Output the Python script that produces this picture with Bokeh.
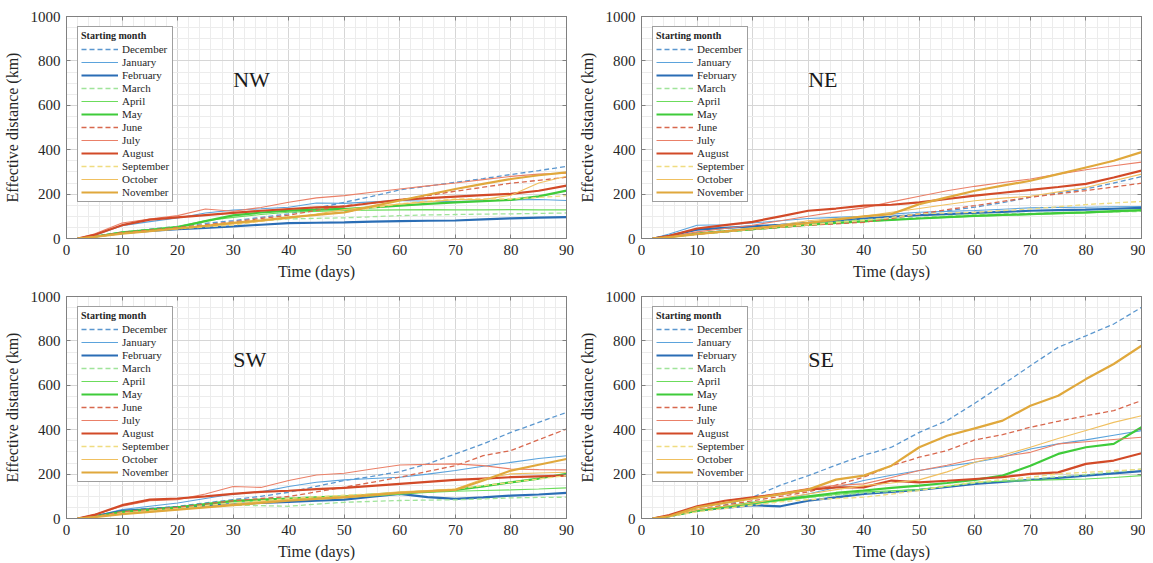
from bokeh.plotting import figure
from bokeh.layouts import column, row
from bokeh.models import FixedTicker, Legend, LegendItem, Label, LinearAxis
from bokeh.embed import file_html
from bokeh.resources import INLINE

days = [2, 5, 10, 15, 20, 25, 30, 35, 40, 45, 50, 55, 60, 65, 70, 75, 80, 85, 90]
months = ["December", "January", "February", "March", "April", "May",
          "June", "July", "August", "September", "October", "November"]
x_ticks = [0, 10, 20, 30, 40, 50, 60, 70, 80, 90]
y_ticks = [0, 200, 400, 600, 800, 1000]

# ---- NW ----
nw_dec = [0, 8, 28, 42, 55, 68, 80, 95, 111, 137, 163, 190, 219, 236, 253, 270, 288, 306, 325]
nw_jan = [0, 14, 58, 76, 92, 115, 128, 134, 141, 160, 158, 165, 171, 168, 166, 170, 174, 176, 171]
nw_feb = [0, 8, 25, 34, 42, 48, 55, 62, 69, 71, 73, 76, 78, 80, 81, 86, 91, 94, 96]
nw_mar = [0, 8, 25, 37, 48, 60, 70, 80, 88, 91, 93, 98, 103, 106, 108, 110, 111, 113, 115]
nw_apr = [0, 9, 30, 42, 55, 80, 95, 108, 118, 122, 126, 128, 129, 130, 129, 129, 130, 129, 129]
nw_may = [0, 8, 27, 38, 50, 78, 104, 117, 126, 130, 133, 140, 148, 156, 163, 168, 174, 190, 216]
nw_jun = [0, 8, 27, 38, 50, 62, 75, 90, 105, 127, 148, 160, 174, 193, 213, 231, 249, 262, 276]
nw_jul = [0, 20, 70, 88, 103, 133, 123, 140, 163, 183, 193, 208, 223, 237, 250, 265, 280, 290, 294]
nw_aug = [0, 16, 60, 85, 95, 105, 115, 125, 133, 140, 144, 160, 174, 182, 189, 195, 201, 215, 238]
nw_sep = [0, 7, 22, 33, 44, 52, 60, 78, 95, 108, 118, 138, 156, 168, 178, 178, 178, 185, 193]
nw_oct = [0, 7, 22, 33, 45, 55, 65, 78, 90, 110, 130, 143, 155, 165, 175, 176, 195, 250, 280]
nw_nov = [0, 7, 22, 33, 45, 57, 70, 82, 95, 106, 118, 145, 171, 197, 223, 246, 268, 285, 298]

# ---- NE ----
ne_dec = [0, 8, 25, 35, 45, 55, 65, 78, 88, 100, 111, 125, 141, 162, 186, 205, 223, 250, 279]
ne_jan = [0, 20, 60, 62, 70, 80, 90, 95, 100, 110, 118, 122, 126, 132, 138, 140, 141, 143, 144]
ne_feb = [0, 12, 40, 48, 55, 62, 70, 80, 90, 98, 105, 110, 115, 120, 125, 128, 130, 134, 138]
ne_mar = [0, 6, 20, 30, 40, 52, 65, 75, 85, 90, 95, 102, 108, 111, 113, 116, 118, 120, 122]
ne_apr = [0, 6, 20, 30, 40, 50, 60, 68, 75, 83, 90, 95, 100, 104, 108, 112, 115, 120, 125]
ne_may = [0, 7, 22, 32, 42, 52, 62, 70, 78, 84, 90, 96, 102, 106, 110, 114, 118, 123, 128]
ne_jun = [0, 6, 20, 30, 40, 50, 60, 66, 73, 90, 111, 130, 148, 167, 186, 201, 216, 232, 249]
ne_jul = [0, 8, 30, 45, 60, 80, 100, 120, 138, 165, 190, 215, 235, 252, 268, 290, 310, 328, 344]
ne_aug = [0, 12, 45, 60, 75, 100, 125, 135, 148, 152, 163, 178, 193, 206, 219, 232, 246, 275, 306]
ne_sep = [0, 6, 20, 30, 42, 52, 62, 72, 81, 95, 111, 115, 118, 126, 133, 143, 153, 160, 167]
ne_oct = [0, 6, 20, 32, 45, 62, 80, 90, 100, 118, 135, 153, 170, 182, 190, 210, 230, 260, 290]
ne_nov = [0, 6, 20, 32, 45, 57, 70, 85, 100, 110, 155, 185, 215, 238, 260, 290, 320, 350, 389]

# ---- SW ----
sw_dec = [0, 8, 35, 45, 55, 70, 85, 100, 118, 145, 171, 190, 211, 246, 291, 336, 388, 433, 478]
sw_jan = [0, 10, 40, 55, 70, 90, 110, 120, 144, 163, 174, 180, 186, 200, 216, 235, 253, 270, 283]
sw_feb = [0, 10, 35, 42, 50, 58, 65, 70, 75, 80, 85, 98, 111, 96, 88, 95, 103, 108, 115]
sw_mar = [0, 8, 30, 38, 45, 52, 60, 58, 55, 65, 73, 77, 81, 83, 84, 88, 93, 95, 96]
sw_apr = [0, 8, 30, 40, 50, 62, 75, 80, 85, 90, 95, 102, 110, 117, 123, 126, 129, 133, 138]
sw_may = [0, 8, 30, 40, 50, 65, 80, 85, 90, 95, 100, 108, 115, 122, 129, 145, 163, 180, 201]
sw_jun = [0, 8, 30, 40, 50, 65, 80, 90, 99, 120, 141, 163, 186, 212, 238, 283, 306, 355, 403]
sw_jul = [0, 18, 55, 80, 85, 110, 144, 140, 171, 196, 204, 223, 241, 244, 246, 238, 223, 220, 219]
sw_aug = [0, 16, 60, 85, 90, 100, 111, 120, 125, 132, 138, 147, 156, 165, 174, 180, 186, 190, 193]
sw_sep = [0, 7, 25, 35, 45, 58, 70, 80, 90, 98, 105, 110, 115, 124, 133, 148, 163, 178, 193]
sw_oct = [0, 6, 20, 30, 40, 52, 65, 75, 85, 92, 100, 110, 120, 126, 133, 178, 201, 205, 208]
sw_nov = [0, 6, 20, 30, 40, 50, 60, 70, 80, 88, 95, 105, 115, 122, 129, 171, 216, 242, 268]

# ---- SE ----
se_dec = [0, 10, 40, 60, 96, 150, 193, 240, 285, 321, 388, 441, 519, 603, 688, 771, 823, 876, 951]
se_jan = [0, 10, 35, 50, 65, 85, 110, 140, 171, 195, 216, 235, 253, 276, 313, 336, 354, 375, 396]
se_feb = [0, 10, 35, 48, 60, 55, 80, 95, 111, 120, 129, 142, 156, 165, 174, 183, 193, 203, 213]
se_mar = [0, 10, 35, 50, 65, 80, 95, 105, 115, 122, 130, 145, 160, 170, 178, 188, 198, 210, 223]
se_apr = [0, 10, 35, 50, 65, 80, 95, 108, 120, 125, 130, 145, 163, 168, 171, 175, 178, 185, 193]
se_may = [0, 10, 35, 52, 70, 85, 100, 115, 126, 138, 148, 160, 174, 193, 238, 291, 321, 336, 411]
se_jun = [0, 10, 40, 60, 80, 100, 120, 150, 186, 238, 276, 306, 354, 378, 411, 438, 463, 486, 531]
se_jul = [0, 15, 50, 80, 95, 115, 135, 150, 156, 185, 216, 240, 268, 279, 298, 336, 346, 356, 366]
se_aug = [0, 15, 55, 80, 95, 110, 130, 140, 140, 171, 163, 170, 178, 186, 201, 208, 246, 261, 294]
se_sep = [0, 8, 30, 45, 60, 75, 85, 90, 96, 110, 126, 148, 163, 175, 186, 201, 208, 215, 222]
se_oct = [0, 10, 40, 55, 70, 90, 110, 130, 148, 160, 174, 210, 253, 285, 321, 360, 396, 433, 463]
se_nov = [0, 10, 50, 70, 90, 110, 130, 175, 193, 238, 321, 373, 406, 441, 508, 553, 628, 696, 778]

colors = ["#5b97cf", "#5ba3dc", "#2a6db5",
          "#a0e49a", "#6cdc5c", "#3fcb3a",
          "#d8684e", "#ea8068", "#d24a28",
          "#f0dc80", "#f0c060", "#e0a83c"]
dashes = ["dashed", "solid", "solid"] * 4
widths = [1.3, 1.1, 2.2] * 4

FONT = "Liberation Serif"
TXT = "#262626"
AX = "#808080"
FW, FH = 500, 222
LEG_X, LEG_Y, LEG_W, LEG_SEP = 11, 36, 94, 26  # legend box geometry in frame pixels


def style_axis(ax):
    ax.axis_line_color = AX
    ax.major_tick_line_color = AX
    ax.major_tick_in = 4
    ax.major_tick_out = 0
    ax.minor_tick_in = 0
    ax.minor_tick_out = 0
    ax.major_label_text_font = FONT
    ax.major_label_text_font_size = "15px"
    ax.major_label_text_color = TXT
    ax.axis_label_text_font = FONT
    ax.axis_label_text_font_size = "16px"
    ax.axis_label_text_font_style = "normal"
    ax.axis_label_text_color = TXT


def make_panel(name, series, bl, br, bt, bb):
    p = figure(frame_width=FW, frame_height=FH, x_range=(0, 90), y_range=(0, 1000),
               output_backend="svg", toolbar_location=None,
               min_border_left=bl, min_border_right=br, min_border_top=bt, min_border_bottom=bb,
               background_fill_color="white", border_fill_color="white")
    p.outline_line_color = AX
    p.outline_line_width = 1
    p.xaxis.ticker = FixedTicker(ticks=x_ticks, minor_ticks=list(range(0, 91, 2)))
    p.yaxis.ticker = FixedTicker(ticks=y_ticks, minor_ticks=list(range(0, 1001, 50)))
    for ax in (p.xaxis, p.yaxis):
        style_axis(ax)
    p.xaxis.axis_label = "Time (days)"
    p.yaxis.axis_label = "Effective distance (km)"
    p.xaxis.major_label_standoff = 6
    p.xaxis.axis_label_standoff = 5
    p.yaxis.major_label_standoff = 6
    p.yaxis.axis_label_standoff = 7
    p.xgrid.grid_line_color = "#d6d6d6"
    p.ygrid.grid_line_color = "#d6d6d6"
    p.xgrid.minor_grid_line_color = "#ececec"
    p.ygrid.minor_grid_line_color = "#ececec"

    # box ticks on top and right sides (no labels)
    top = LinearAxis(ticker=FixedTicker(ticks=x_ticks))
    right = LinearAxis(ticker=FixedTicker(ticks=y_ticks))
    for ax in (top, right):
        style_axis(ax)
        ax.major_label_text_font_size = "0px"
        ax.major_label_standoff = 0
    top.major_label_overrides = {t: "" for t in x_ticks}
    right.major_label_overrides = {t: "" for t in y_ticks}
    p.add_layout(top, "above")
    p.add_layout(right, "right")

    items = []
    for m, vals, c, d, w in zip(months, series, colors, dashes, widths):
        r = p.line(days, vals, line_color=c, line_width=w,
                   line_dash=("5 3" if d == "dashed" else "solid"))
        items.append(LegendItem(label=m, renderers=[r]))
    leg = Legend(items=items, location=(LEG_X, LEG_Y), margin=0, padding=3,
                 spacing=1, glyph_width=37, glyph_height=12, label_height=12,
                 label_standoff=4,
                 label_text_font=FONT, label_text_font_size="11px", label_text_color=TXT,
                 title="Starting month", title_text_font=FONT, title_text_font_size="10px",
                 title_text_font_style="bold", title_text_color=TXT, title_standoff=2,
                 border_line_color="#404040", border_line_width=1,
                 background_fill_color="white", background_fill_alpha=1.0)
    p.add_layout(leg)
    # separator under the legend title (frame-pixel geometry converted to data units)
    sx0 = LEG_X * 90 / FW
    sx1 = (LEG_X + LEG_W) * 90 / FW
    sy = (FH - LEG_SEP) * 1000 / FH
    sep = p.segment(x0=[sx0], y0=[sy], x1=[sx1], y1=[sy], line_color="#404040", line_width=1)
    sep.level = "overlay"
    p.add_layout(Label(x=30, y=716, text=name, text_font=FONT, text_font_size="22px",
                       text_color="#1a1a1a", text_baseline="middle"))
    return p


p1 = make_panel("NW", [nw_dec, nw_jan, nw_feb, nw_mar, nw_apr, nw_may, nw_jun, nw_jul,
                       nw_aug, nw_sep, nw_oct, nw_nov], 66, 9, 16, 50)
p2 = make_panel("NE", [ne_dec, ne_jan, ne_feb, ne_mar, ne_apr, ne_may, ne_jun, ne_jul,
                       ne_aug, ne_sep, ne_oct, ne_nov], 66, 4, 16, 50)
p3 = make_panel("SW", [sw_dec, sw_jan, sw_feb, sw_mar, sw_apr, sw_may, sw_jun, sw_jul,
                       sw_aug, sw_sep, sw_oct, sw_nov], 66, 9, 8, 37)
p4 = make_panel("SE", [se_dec, se_jan, se_feb, se_mar, se_apr, se_may, se_jun, se_jul,
                       se_aug, se_sep, se_oct, se_nov], 66, 4, 8, 37)

lay = column(row(p1, p2), row(p3, p4))
open("out.html", "w").write(file_html(lay, INLINE))
